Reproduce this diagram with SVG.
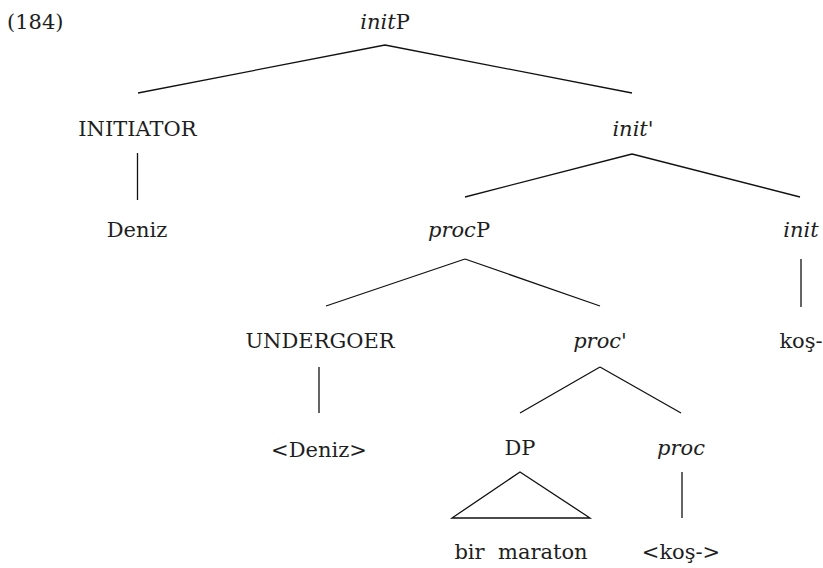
<svg xmlns="http://www.w3.org/2000/svg" width="823" height="568" viewBox="0 0 823 568">
  <style>
    text { font-family: "DejaVu Serif", "Liberation Serif", serif; font-size: 21px; fill: #1e1e1e; text-anchor: middle; }
    .it { font-style: italic; }
    .num { text-anchor: start; }
    .edge { stroke: #111; stroke-width: 1.3; fill: none; stroke-linecap: butt; }
  </style>
  <rect width="823" height="568" fill="#fff"/>

  <text class="num" x="7" y="29">(184)</text>

  <g id="connectors">
    <path class="edge" d="M385,45 L138,93 M385,45 L632,93"/>
    <path class="edge" d="M137.5,153 L137.5,200"/>
    <path class="edge" d="M632,154 L465,197 M632,154 L800,197"/>
    <path class="edge" d="M465,259 L326,306 M465,259 L600,306"/>
    <path class="edge" d="M801,259 L801,307"/>
    <path class="edge" d="M319,367 L319,413"/>
    <path class="edge" d="M600,367 L520,413 M600,367 L681,413"/>
    <path class="edge" d="M682,472 L682,518"/>
    <path class="edge" d="M520,472 L452,518 L590,518 Z"/>
  </g>

  <g id="initP"><text x="385" y="29"><tspan class="it">init</tspan>P</text></g>
  <g id="initiator"><text x="137.5" y="136">INITIATOR</text></g>
  <g id="init-bar"><text class="it" x="633" y="136">init'</text></g>
  <g id="deniz"><text x="137" y="237">Deniz</text></g>
  <g id="procP"><text x="459" y="237"><tspan class="it">proc</tspan>P</text></g>
  <g id="init"><text class="it" x="801" y="237">init</text></g>
  <g id="undergoer"><text x="320" y="348">UNDERGOER</text></g>
  <g id="proc-bar"><text class="it" x="600" y="348">proc'</text></g>
  <g id="kos"><text x="801" y="348">koş-</text></g>
  <g id="deniz-copy"><text x="319" y="457">&lt;Deniz&gt;</text></g>
  <g id="DP"><text x="520" y="455">DP</text></g>
  <g id="proc"><text class="it" x="681" y="455">proc</text></g>
  <g id="bir-maraton"><text x="521" y="559" xml:space="preserve">bir  maraton</text></g>
  <g id="kos-copy"><text x="681" y="559">&lt;koş-&gt;</text></g>
</svg>
